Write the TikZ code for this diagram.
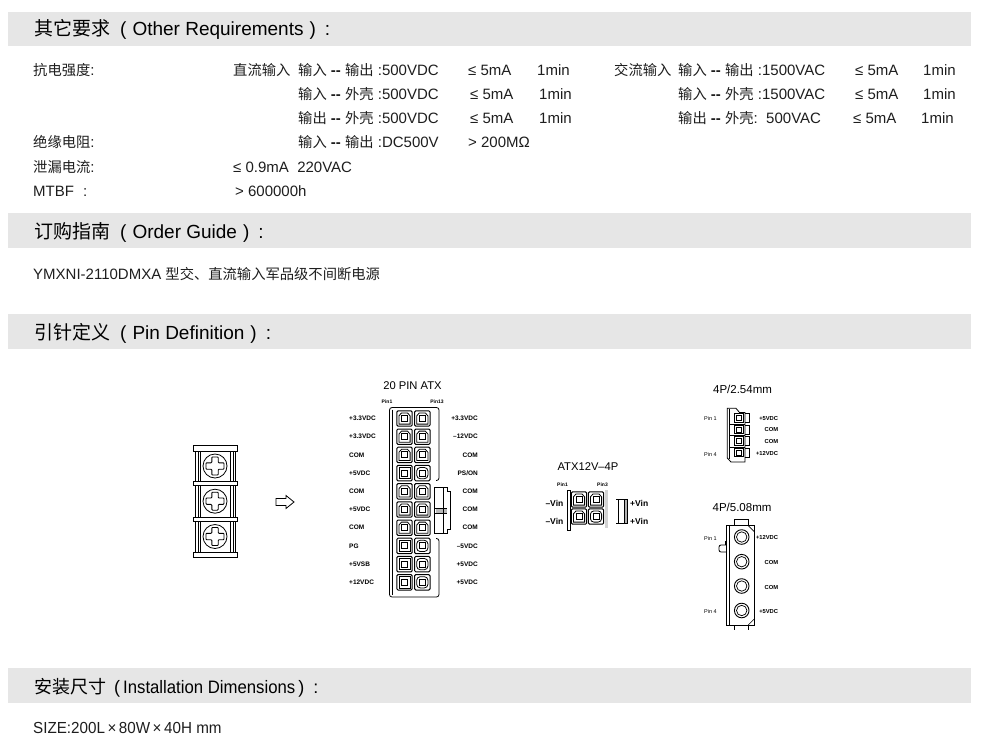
\documentclass[tikz,border=0pt]{standalone}
\usepackage{fontspec}
\usepackage{graphicx}
\setmainfont{Liberation Sans}
\newfontfamily\cjk{Noto Sans CJK SC}
\newcommand\zh[1]{{\cjk #1}}
\newcommand\zb[1]{{\cjk\fontsize{14.3}{17}\selectfont #1}}
\newcommand\mydash{\textbf{-{}-}}
\definecolor{bandgray}{HTML}{E6E6E6}
\definecolor{txtgray}{HTML}{1E1E1E}
\begin{document}
\begin{tikzpicture}[x=1pt,y=-1pt,
  bandbox/.style={fill=bandgray,draw=none},
  ttl/.style={anchor=base west,inner sep=0pt,font=\fontsize{19}{22}\selectfont,text=black},
  bodytxt/.style={anchor=base west,inner sep=0pt,font=\fontsize{15}{17}\selectfont,text=txtgray},
  plab/.style={inner sep=0pt,font=\fontsize{6.5}{7}\selectfont\bfseries},
  pinno/.style={inner sep=0pt,font=\fontsize{5}{6}\selectfont\bfseries},
  ctitle/.style={inner sep=0pt,font=\fontsize{11.2}{13}\selectfont},
  vinlab/.style={inner sep=0pt,font=\fontsize{8.5}{10}\selectfont\bfseries},
  slab/.style={inner sep=0pt,font=\fontsize{5.8}{7}\selectfont\bfseries},
  ln/.style={line width=0.8pt},
  pics/pinA/.style={code={
    \draw[line width=1pt,rounded corners=1.2pt] (-7.7,-7.7) rectangle (7.7,7.7);
    \draw[line width=0.8pt] (-5.6,-2.6) -- (-3,-5.6) -- (3,-5.6) -- (5.6,-2.6) -- (5.6,5.6) -- (-5.6,5.6) -- cycle;
    \draw[line width=0.6pt] (-3,-3.2) rectangle (3,2.8);
  }},
  pics/pinB/.style={code={
    \draw[line width=1pt,rounded corners=1.2pt] (-7.7,-7.7) rectangle (7.7,7.7);
    \draw[line width=0.8pt] (-5.6,-5.6) rectangle (5.6,5.6);
    \draw[line width=0.6pt] (-3,-3.2) rectangle (3,2.8);
  }},
  pics/pinC/.style={code={
    \draw[line width=1pt,rounded corners=1.2pt] (-7.7,-7.7) rectangle (7.7,7.7);
    \draw[line width=0.8pt,rounded corners=3.5pt] (-5.6,-5.6) rectangle (5.6,5.6);
    \draw[line width=0.6pt] (-3,-3.2) rectangle (3,2.8);
  }}
]
\path[use as bounding box,fill=white] (0,0) rectangle (987,739);

% ---------- bands and titles ----------
\fill[bandbox] (8,12) rectangle (971,46);
\fill[bandbox] (8,213) rectangle (971,248);
\fill[bandbox] (8,314) rectangle (971,349);
\fill[bandbox] (8,668) rectangle (971,703);
\node[ttl] (t1) at (34,35.5) {\zh{其它要求}\hspace{10pt}(\hspace{6pt}Other Requirements\hspace{6pt})\hspace{9pt}:};
\node[ttl] (t2) at (34,238.3) {\zh{订购指南}\hspace{10pt}(\hspace{6pt}Order Guide\hspace{6pt})\hspace{9pt}:};
\node[ttl] (t3) at (34,339.5) {\zh{引针定义}\hspace{10pt}(\hspace{6pt}Pin Definition\hspace{6pt})\hspace{9pt}:};
\node[ttl,font=\fontsize{18}{21}\selectfont] (t4) at (34,693) {\zh{安装尺寸}\hspace{8pt}(\hspace{3pt}\scalebox{0.93}[1]{Installation Dimensions}\hspace{3pt})\hspace{9pt}:};

% ---------- other requirements ----------
\node[bodytxt] (l1) at (33,75) {\zb{抗电强度}:};
\node[bodytxt] (l2) at (33,147.5) {\zb{绝缘电阻}:};
\node[bodytxt] (l3) at (33,172) {\zb{泄漏电流}:};
\node[bodytxt] (l4) at (33,196) {MTBF\hspace{9pt}:};

\node[bodytxt] (d0) at (233,75) {\zb{直流输入}};
\node[bodytxt] (d1) at (298,75) {\zb{输入} \mydash{} \zb{输出} :500VDC};
\node[bodytxt] (d1b) at (468,75) {≤ 5mA};
\node[bodytxt] (d1c) at (537,75) {1min};
\node[bodytxt] (d2) at (298,99) {\zb{输入} \mydash{} \zb{外壳} :500VDC};
\node[bodytxt] (d2b) at (470,99) {≤ 5mA};
\node[bodytxt] (d2c) at (539,99) {1min};
\node[bodytxt] (d3) at (298,123) {\zb{输出} \mydash{} \zb{外壳} :500VDC};
\node[bodytxt] (d3b) at (470,123) {≤ 5mA};
\node[bodytxt] (d3c) at (539,123) {1min};
\node[bodytxt] (d4) at (298,147.5) {\zb{输入} \mydash{} \zb{输出} :DC500V};
\node[bodytxt] (d4b) at (468,147.5) {> 200MΩ};
\node[bodytxt] (d5) at (233,172) {≤ 0.9mA\ \ 220VAC};
\node[bodytxt] (d6) at (235,196) {> 600000h};

\node[bodytxt] (a0) at (614,75) {\zb{交流输入}};
\node[bodytxt] (a1) at (678,75) {\zb{输入} \mydash{} \zb{输出} :1500VAC};
\node[bodytxt] (a1b) at (855,75) {≤ 5mA};
\node[bodytxt] (a1c) at (923,75) {1min};
\node[bodytxt] (a2) at (678,99) {\zb{输入} \mydash{} \zb{外壳} :1500VAC};
\node[bodytxt] (a2b) at (855,99) {≤ 5mA};
\node[bodytxt] (a2c) at (923,99) {1min};
\node[bodytxt] (a3) at (678,123) {\zb{输出} \mydash{} \zb{外壳}:\ \ 500VAC};
\node[bodytxt] (a3b) at (853,123) {≤ 5mA};
\node[bodytxt] (a3c) at (921,123) {1min};

% ---------- order guide ----------
\node[bodytxt] (og) at (33,279) {YMXNI-2110DMXA \zb{型交、直流输入军品级不间断电源}};

% ---------- size ----------
\node[bodytxt,font=\fontsize{16}{18}\selectfont] (sz) at (33,733) {\scalebox{0.95}[1]{SIZE:200L\,×\,80W\,×\,40H mm}};

% ---------- terminal block ----------
\foreach \ya/\yb in {445/451,481/485.5,517/521,552/557}
  \draw[line width=0.9pt] (193.5,\ya) rectangle (237.5,\yb);
\foreach \ya/\yb/\c in {451/481/466,485.5/517/501.2,521/552/536.5}{
  \draw[line width=0.9pt] (195.8,\ya) -- (195.8,\yb) (235.2,\ya) -- (235.2,\yb);
  \draw[line width=0.4pt] (198.3,\ya) -- (198.3,\yb) (232.7,\ya) -- (232.7,\yb);
  \draw[line width=0.7pt] (200.3,\ya) -- (200.3,\yb) (230.7,\ya) -- (230.7,\yb);
  \draw[line width=0.8pt] (215,\c) circle[radius=12pt];
  \draw[line width=0.9pt,shift={(215,\c)},rounded corners=0.8pt]
    (-3.2,-9) -- (3.2,-9) -- (3.2,-3.2) -- (9,-3.2) -- (9,3.2) -- (3.2,3.2) -- (3.2,9)
    -- (-3.2,9) -- (-3.2,3.2) -- (-9,3.2) -- (-9,-3.2) -- (-3.2,-3.2) -- cycle;
}
% hollow arrow
\draw[ln] (276,498.5) -- (286,498.5) -- (286,495.5) -- (294,502) -- (286,508.5) -- (286,505.5) -- (276,505.5) -- cycle;

% ---------- 20 PIN ATX ----------
\node[ctitle] (atx) at (412.5,386) {20 PIN ATX};
\node[pinno] (p1) at (387,401.5) {Pin1};
\node[pinno] (p13) at (437,401.5) {Pin13};
\draw[ln,rounded corners=2.5pt] (436,480.5) -- (439,480.5) -- (439,407.5) -- (389.5,407.5) -- (389.5,597) -- (439,597) -- (439,538.5) -- (436,538.5);
\draw[line width=0.4pt] (391.8,409.5) -- (391.8,595);
% latch
\fill[gray!55] (435.5,508.5) rectangle (447,513);
\draw[ln] (434.5,487) -- (447,487) -- (447,491) -- (450.5,491) -- (450.5,529) -- (447,529) -- (447,533) -- (434.5,533) -- cycle;
\draw[line width=0.6pt] (443,487) -- (443,533) (434.5,508.5) -- (447,508.5) (434.5,513) -- (447,513);
% pins
\foreach \i/\ta/\tb in {0/A/A,1/A/A,2/A/A,3/B/C,4/A/A,5/A/A,6/A/A,7/B/C,8/B/C,9/B/C}{
  \pic at (404.5,{418.5+18.2*\i}) {pin\ta};
  \pic at (422.3,{418.5+18.2*\i}) {pin\tb};
}
\node[plab,anchor=west] (la0) at (349,418.5) {+3.3VDC};
\node[plab,anchor=west] (la1) at (349,436.7) {+3.3VDC};
\node[plab,anchor=west] (la2) at (349,454.9) {COM};
\node[plab,anchor=west] (la3) at (349,473.1) {+5VDC};
\node[plab,anchor=west] (la4) at (349,491.3) {COM};
\node[plab,anchor=west] (la5) at (349,509.5) {+5VDC};
\node[plab,anchor=west] (la6) at (349,527.7) {COM};
\node[plab,anchor=west] (la7) at (349,545.9) {PG};
\node[plab,anchor=west] (la8) at (349,564.1) {+5VSB};
\node[plab,anchor=west] (la9) at (349,582.3) {+12VDC};
\node[plab,anchor=east] (ra0) at (478,418.5) {+3.3VDC};
\node[plab,anchor=east] (ra1) at (478,436.7) {–12VDC};
\node[plab,anchor=east] (ra2) at (478,454.9) {COM};
\node[plab,anchor=east] (ra3) at (478,473.1) {PS/ON};
\node[plab,anchor=east] (ra4) at (478,491.3) {COM};
\node[plab,anchor=east] (ra5) at (478,509.5) {COM};
\node[plab,anchor=east] (ra6) at (478,527.7) {COM};
\node[plab,anchor=east] (ra7) at (478,545.9) {–5VDC};
\node[plab,anchor=east] (ra8) at (478,564.1) {+5VDC};
\node[plab,anchor=east] (ra9) at (478,582.3) {+5VDC};

% ---------- ATX12V-4P ----------
\node[ctitle] (a4p) at (588,467) {ATX12V–4P};
\node[pinno] (q1) at (562.5,484.5) {Pin1};
\node[pinno] (q3) at (602.5,484.5) {Pin3};
\draw[line width=0.6pt] (567.7,490) rectangle (570,530);
\pic at (579,499.5) {pinA};
\pic at (596,499.5) {pinA};
\pic at (579,516.5) {pinA};
\pic at (596,516.5) {pinC};
\fill[gray!35] (605,490) rectangle (607.5,528);
\fill[gray!60] (624.3,499) rectangle (627.7,523.3);
\draw[line width=0.6pt] (618.3,499) rectangle (627.7,523.3);
\draw[line width=0.6pt] (624.3,499) -- (624.3,523.3) (616,499) -- (618.3,499) (616,523.3) -- (618.3,523.3);
\node[vinlab,anchor=east] (v1) at (563.5,503) {–Vin};
\node[vinlab,anchor=east] (v2) at (563.5,521) {–Vin};
\node[vinlab,anchor=west] (v3) at (630,503) {+Vin};
\node[vinlab,anchor=west] (v4) at (630,521) {+Vin};

% ---------- 4P/2.54mm ----------
\node[ctitle,font=\fontsize{11.5}{13}\selectfont] (c254) at (742.5,389) {4P/2.54mm};
\draw[ln] (745,458) -- (745,412.5) -- (739.5,412.5) -- (736,408.3) -- (727.3,408.3) -- (727.3,458) -- (731,462) -- (745,462) -- (745,458);
\draw[line width=0.4pt] (729.5,409) -- (729.5,459);
\foreach \c in {418,429.5,441,452.5}{
  \draw[line width=0.7pt] (745,\c-4.6) -- (749,\c-4.6) -- (749,\c+4.6) -- (745,\c+4.6);
  \draw[line width=0.8pt] (734.5,\c-4.2) rectangle (743,\c+4.2);
  \draw[line width=0.6pt] (736.6,\c-2.3) rectangle (741,\c+2.3);
}
\foreach \c in {423.75,435.25,446.75}
  \draw[line width=0.5pt] (729.5,\c) -- (745,\c);
\node[slab,anchor=west,font=\fontsize{5.5}{6}\selectfont] (b1) at (704,418.5) {Pin 1};
\node[slab,anchor=west,font=\fontsize{5.5}{6}\selectfont] (b4) at (704,454) {Pin 4};
\node[slab,anchor=east] (br1) at (778.3,418.5) {+5VDC};
\node[slab,anchor=east] (br2) at (778.3,429.5) {COM};
\node[slab,anchor=east] (br3) at (778.3,441) {COM};
\node[slab,anchor=east] (br4) at (778.3,453.5) {+12VDC};

% ---------- 4P/5.08mm ----------
\node[ctitle,font=\fontsize{11.5}{13}\selectfont] (c508) at (742,507.7) {4P/5.08mm};
\draw[ln] (734.3,519) rectangle (748.3,525.7);
\draw[ln] (726.7,525.7) rectangle (754.3,625);
\draw[line width=0.4pt] (729.2,526) -- (729.2,624.5);
\draw[line width=0.6pt] (748.3,525.7) -- (754.3,531.7) (754.3,619) -- (748.3,625);
\draw[ln] (734.3,625) -- (734.3,630) (748.3,625) -- (748.3,630);
\draw[ln,rounded corners=2pt] (726.7,545) -- (719,545) -- (719,552) -- (726.7,552);
\draw[line width=0.6pt] (724.8,541) -- (724.8,545);
\foreach \c in {537,561.7,586,610.5}{
  \draw[line width=0.9pt] (741.7,\c) circle[radius=7.3pt];
  \draw[line width=0.7pt] (741.7,\c) circle[radius=5.2pt];
}
\node[slab,anchor=west,font=\fontsize{5.5}{6}\selectfont] (e1) at (704,538.3) {Pin 1};
\node[slab,anchor=west,font=\fontsize{5.5}{6}\selectfont] (e4) at (704,611.7) {Pin 4};
\node[slab,anchor=east] (er1) at (778.3,537.5) {+12VDC};
\node[slab,anchor=east] (er2) at (778.3,562.5) {COM};
\node[slab,anchor=east] (er3) at (778.3,587) {COM};
\node[slab,anchor=east] (er4) at (778.3,611.7) {+5VDC};
\end{tikzpicture}
\end{document}
